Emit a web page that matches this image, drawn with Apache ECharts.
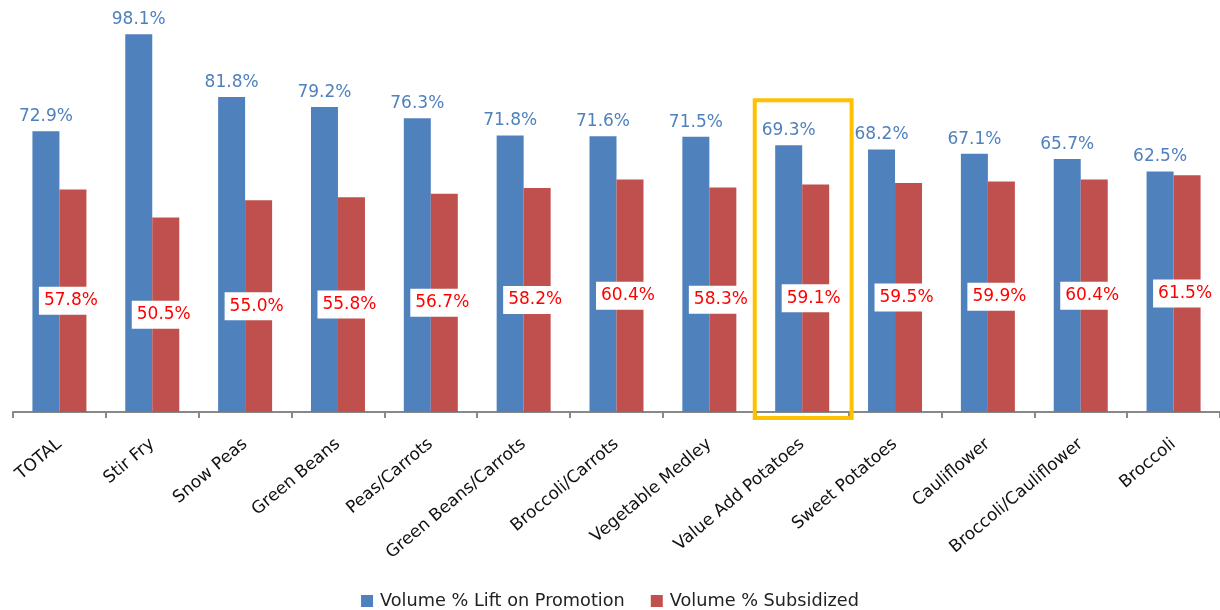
<!DOCTYPE html>
<html><head><meta charset="utf-8">
<script src="https://cdn.jsdelivr.net/npm/echarts@6/dist/echarts.min.js"></script>
<style>html,body{margin:0;padding:0;background:#fff}#c{width:1220px;height:610px}</style>
</head><body><div id="c"></div>
<script>
const categories = ['TOTAL','Stir Fry','Snow Peas','Green Beans','Peas/Carrots','Green Beans/Carrots','Broccoli/Carrots','Vegetable Medley','Value Add Potatoes','Sweet Potatoes','Cauliflower','Broccoli/Cauliflower','Broccoli'];
const liftValues = [72.9,98.1,81.8,79.2,76.3,71.8,71.6,71.5,69.3,68.2,67.1,65.7,62.5];
const subsidizedValues = [57.8,50.5,55.0,55.8,56.7,58.2,60.4,58.3,59.1,59.5,59.9,60.4,61.5];
const highlightCategory = 'Value Add Potatoes';
const highlightTop = 81;

const chart = echarts.init(document.getElementById('c'));
const font = '"DejaVu Sans", Verdana, sans-serif';
chart.setOption({
  animation: false,
  textStyle: {fontFamily: font},
  grid: {left: 13, right: 0, top: 27, bottom: 198, containLabel: false},
  legend: {
    top: 587, left: 'center', itemWidth: 12, itemHeight: 12, itemGap: 26,
    icon: 'rect',
    textStyle: {fontSize: 17.7, color: '#222', fontFamily: font, padding: [0, 0, 0, 2]},
    data: ['Volume % Lift on Promotion','Volume % Subsidized']
  },
  xAxis: {
    type: 'category', data: categories,
    axisLine: {lineStyle: {color: '#888', width: 2}},
    axisTick: {show: true, length: 6, lineStyle: {color: '#888', width: 2}},
    axisLabel: {rotate: 40, fontSize: 17, color: '#111', margin: 30, interval: 0, fontFamily: font}
  },
  yAxis: {type: 'value', min: 0, max: 100, show: false, splitLine: {show: false}},
  series: [
    {
      name: 'Volume % Lift on Promotion', type: 'bar', data: liftValues,
      barWidth: 27, barGap: '0%',
      itemStyle: {color: '#4f81bd'},
      label: {show: true, position: 'top', distance: 6, fontSize: 17, color: '#4f81bd', formatter: p => p.value.toFixed(1) + '%'}
    },
    {
      name: 'Volume % Subsidized', type: 'bar', data: subsidizedValues,
      barWidth: 27,
      itemStyle: {color: '#c0504d'},
      label: {show: true, position: 'inside', offset: [-2, 0], fontSize: 17, color: '#ff0000',
        backgroundColor: '#fff', padding: [6, 5, 5, 5],
        formatter: p => p.value.toFixed(1) + '%'}
    }
  ]
});

function drawHighlight() {
  const idx = categories.indexOf(highlightCategory);
  const c = chart.convertToPixel({xAxisIndex: 0}, idx);
  const c2 = chart.convertToPixel({xAxisIndex: 0}, idx + 1);
  const step = c2 - c;
  const yTop = chart.convertToPixel({yAxisIndex: 0}, highlightTop);
  const yBase = chart.convertToPixel({yAxisIndex: 0}, 0);
  const w = step + 4;
  chart.setOption({
    graphic: [{
      type: 'rect', z: 100,
      shape: {x: c - w / 2 + 1, y: yTop, width: w, height: yBase - yTop + 6},
      style: {fill: 'none', stroke: '#ffc000', lineWidth: 4}
    }]
  });
}
drawHighlight();
</script>
</body></html>
